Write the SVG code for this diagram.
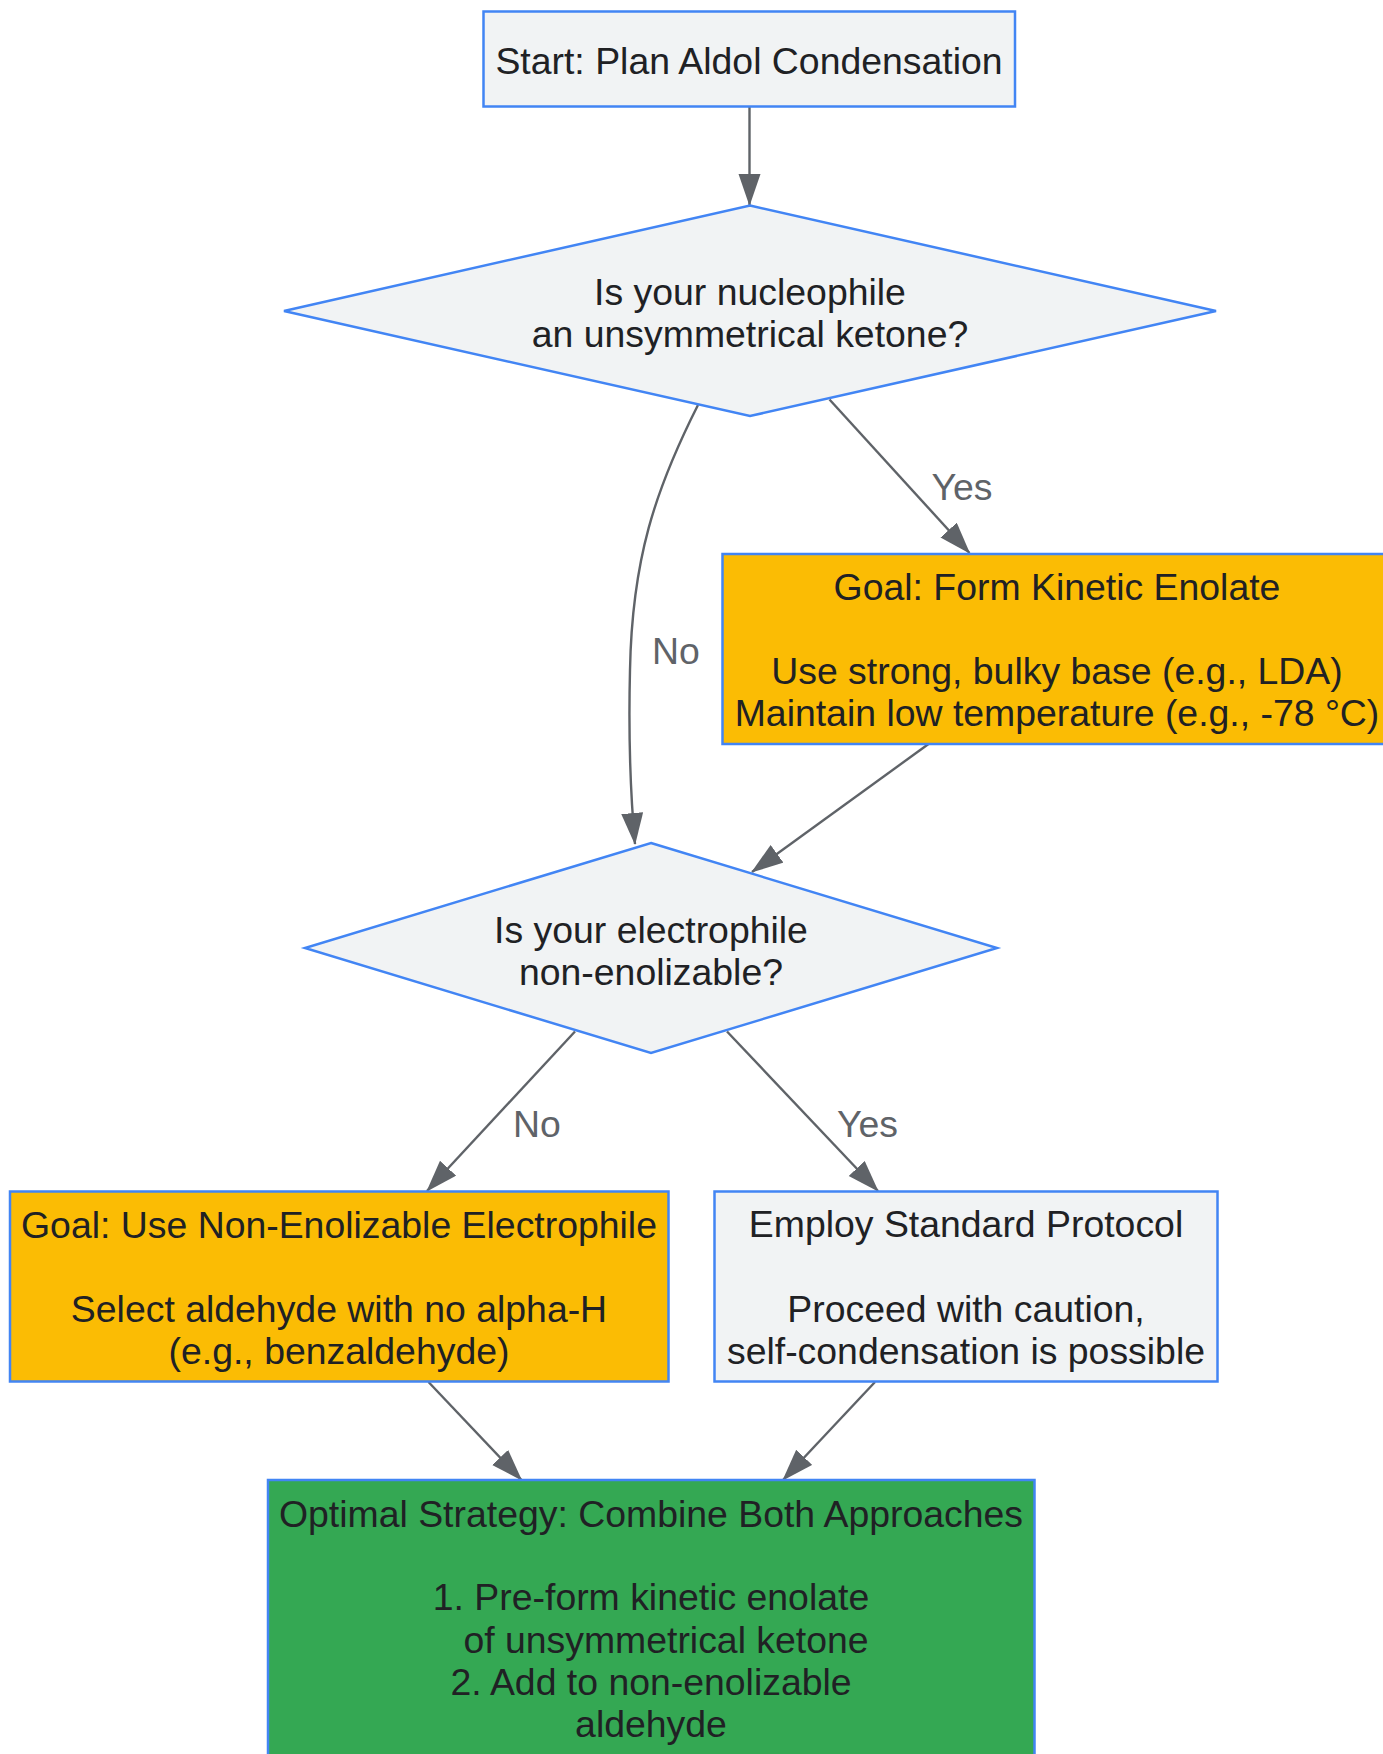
<svg xmlns="http://www.w3.org/2000/svg" width="1383" height="1754" viewBox="0 0 1383 1754">
<style>
  .node-shape { stroke: #4285f4; stroke-width: 2.5; }
  .plain { fill: #f1f3f4; }
  .warn { fill: #fbbc04; }
  .good { fill: #34a853; }
  .label { font-family: "Liberation Sans", Arial, sans-serif; font-size: 37.4px; fill: #202124; text-anchor: middle; }
  .edge { fill: none; stroke: #5f6368; stroke-width: 2.4; }
  .edge-label { font-family: "Liberation Sans", Arial, sans-serif; font-size: 37.4px; fill: #5f6368; text-anchor: middle; }
</style>
<defs>
  <marker id="arrow" markerUnits="userSpaceOnUse" markerWidth="34" markerHeight="24" refX="31" refY="11" orient="auto" viewBox="0 0 34 24">
    <path d="M0,0 L32,11 L0,22 z" fill="#5f6368"/>
  </marker>
</defs>

<g id="connectors">
  <path class="edge" d="M749.5,106.5 L749.5,205" marker-end="url(#arrow)"/>
  <path class="edge" d="M698,405 C655,490 632,560 630,670 C628,750 631,800 635,844" marker-end="url(#arrow)"/>
  <path class="edge" d="M829.5,399.5 L969.5,553" marker-end="url(#arrow)"/>
  <path class="edge" d="M928.5,744 L752,872" marker-end="url(#arrow)"/>
  <path class="edge" d="M575,1031.5 L427,1191" marker-end="url(#arrow)"/>
  <path class="edge" d="M727,1031.5 L878,1191" marker-end="url(#arrow)"/>
  <path class="edge" d="M428.5,1382 L521.5,1480" marker-end="url(#arrow)"/>
  <path class="edge" d="M875,1382 L783,1480" marker-end="url(#arrow)"/>
  <text class="edge-label" x="962" y="500">Yes</text>
  <text class="edge-label" x="676" y="664">No</text>
  <text class="edge-label" x="537" y="1137">No</text>
  <text class="edge-label" x="867.5" y="1137">Yes</text>
</g>

<g id="node-start">
  <rect class="node-shape plain" x="483.5" y="11.5" width="531.5" height="95"/>
  <text class="label" x="749" y="74">Start: Plan Aldol Condensation</text>
</g>

<g id="node-q1">
  <polygon class="node-shape plain" points="750,205.5 1216,311 750,416 284,311"/>
  <text class="label" x="750" y="305">Is your nucleophile</text>
  <text class="label" x="750" y="347">an unsymmetrical ketone?</text>
</g>

<g id="node-kinetic">
  <rect class="node-shape warn" x="722.5" y="554" width="670" height="190"/>
  <text class="label" x="1057" y="600">Goal: Form Kinetic Enolate</text>
  <text class="label" x="1057" y="684">Use strong, bulky base (e.g., LDA)</text>
  <text class="label" x="1057" y="726">Maintain low temperature (e.g., -78 °C)</text>
</g>

<g id="node-q2">
  <polygon class="node-shape plain" points="651,843 997,948 651,1053 305,948"/>
  <text class="label" x="651" y="942.5">Is your electrophile</text>
  <text class="label" x="651" y="984.5">non-enolizable?</text>
</g>

<g id="node-nonenol">
  <rect class="node-shape warn" x="10" y="1191.5" width="658.5" height="190"/>
  <text class="label" x="339" y="1238">Goal: Use Non-Enolizable Electrophile</text>
  <text class="label" x="339" y="1322">Select aldehyde with no alpha-H</text>
  <text class="label" x="339" y="1364">(e.g., benzaldehyde)</text>
</g>

<g id="node-standard">
  <rect class="node-shape plain" x="714.5" y="1191.5" width="503" height="190"/>
  <text class="label" x="966" y="1237">Employ Standard Protocol</text>
  <text class="label" x="966" y="1322">Proceed with caution,</text>
  <text class="label" x="966" y="1364">self-condensation is possible</text>
</g>

<g id="node-optimal">
  <rect class="node-shape good" x="268" y="1480" width="766.5" height="300"/>
  <text class="label" x="651" y="1527">Optimal Strategy: Combine Both Approaches</text>
  <text class="label" x="651" y="1610">1. Pre-form kinetic enolate</text>
  <text class="label" x="666" y="1653">of unsymmetrical ketone</text>
  <text class="label" x="651" y="1695">2. Add to non-enolizable</text>
  <text class="label" x="651" y="1737">aldehyde</text>
</g>
</svg>
